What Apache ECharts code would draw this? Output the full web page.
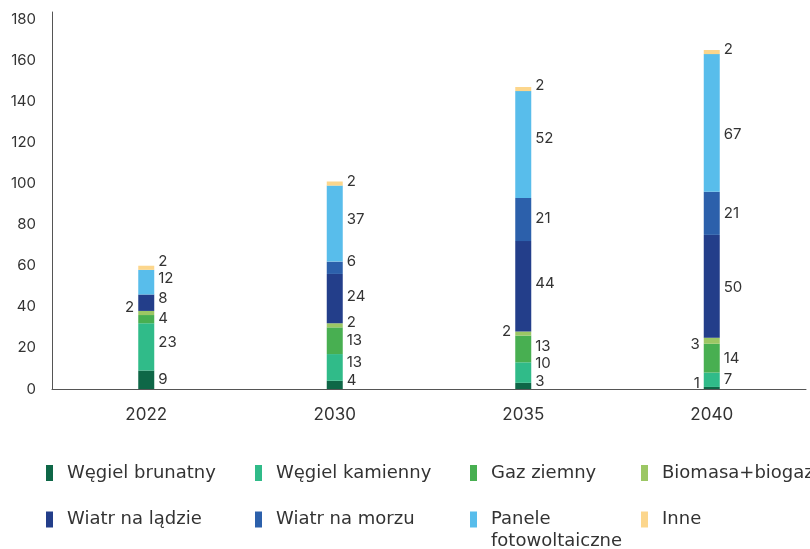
<!DOCTYPE html>
<html>
<head>
<meta charset="utf-8">
<script src="https://cdn.jsdelivr.net/npm/echarts@6/dist/echarts.min.js"></script>
<style>
  html, body { margin: 0; padding: 0; background: #ffffff; }
  #chart { width: 810px; height: 549px; }
</style>
</head>
<body>
<div id="chart"></div>
<script>
// Installed capacity by source (GW), stacked per year
const years = ['2022', '2030', '2035', '2040'];
const yTicks = [0, 20, 40, 60, 80, 100, 120, 140, 160, 180];

const seriesNames = [
  'Węgiel brunatny', 'Węgiel kamienny', 'Gaz ziemny', 'Biomasa+biogaz',
  'Wiatr na lądzie', 'Wiatr na morzu', 'Panele fotowoltaiczne', 'Inne'
];

const wegielBrunatny = [9, 4, 3, 1];
const wegielKamienny = [23, 13, 10, 7];
const gazZiemny      = [4, 13, 13, 14];
const biomasaBiogaz  = [2, 2, 2, 3];
const wiatrLad       = [8, 24, 44, 50];
const wiatrMorze     = [0, 6, 21, 21];
const panelePV       = [12, 37, 52, 67];
const inne           = [2, 2, 2, 2];

const seriesValues = [
  wegielBrunatny, wegielKamienny, gazZiemny, biomasaBiogaz,
  wiatrLad, wiatrMorze, panelePV, inne
];

const colors = [
  '#0e6747', '#30bb89', '#48af51', '#9cc764',
  '#233e8a', '#2c60ab', '#58bdeb', '#fcd68c'
];

// Value labels: side of the bar and vertical nudge (px), per series / year
const labelLeft = {
  '0-3': true,              // Węgiel brunatny 2040
  '3-0': true, '3-2': true, '3-3': true   // Biomasa+biogaz
};
const labelDy = [
  [0, -4, -4, -4.5],
  [-4, -4.5, -9, 0],
  [-1, 0, -2, 0],
  [-5, -2.5, -2.5, 4],
  [-4.5, -2.5, -3, 1],
  [0, -6, -1, 0],
  [-4, -4.5, -6, 12],
  [-6, -2.5, -4, -3]
];

const labelFont = 'Inter, "Noto Sans", sans-serif';

const series = seriesNames.map((name, s) => ({
  name: name,
  type: 'bar',
  stack: 'total',
  barWidth: 16,
  itemStyle: { color: colors[s] },
  emphasis: { disabled: true },
  data: seriesValues[s].map((v, i) => {
    const left = !!labelLeft[s + '-' + i];
    return {
      value: v,
      label: {
        show: v > 0,
        position: left ? 'left' : 'right',
        distance: 4,
        offset: [0, labelDy[s][i]],
        color: '#333333',
        fontSize: 15,
        fontFamily: labelFont
      }
    };
  })
}));

// Legend laid out as a 4 x 2 grid: one legend component per entry
const legendCols = [46, 255, 470, 641];
const legendRows = [473, 519.5];   // marker centre y
const legendFont = '"DejaVu Sans", sans-serif';
const legends = seriesNames.map((name, s) => {
  const col = s % 4, row = Math.floor(s / 4);
  const multi = name === 'Panele fotowoltaiczne';
  const lineH = 22;
  const blockH = multi ? lineH * 3 : lineH;
  return {
    data: [name],
    left: legendCols[col],
    top: legendRows[row] - blockH / 2,
    padding: 0,
    icon: 'rect',
    itemWidth: 7,
    itemHeight: 16,
    itemGap: 0,
    selectedMode: false,
    formatter: multi ? () => ' \nPanele\nfotowoltaiczne' : '{name}',
    textStyle: {
      color: '#333333',
      fontSize: 18,
      fontFamily: legendFont,
      lineHeight: lineH,
      padding: [0, 0, 0, 9]
    }
  };
});

const chart = echarts.init(document.getElementById('chart'), null, { renderer: 'canvas' });
chart.setOption({
  animation: false,
  backgroundColor: '#ffffff',
  grid: { left: 52, right: 4, top: 12, bottom: 160, containLabel: false },
  legend: legends,
  xAxis: {
    type: 'category',
    data: years,
    axisLine: { show: true, lineStyle: { color: '#555555', width: 1 } },
    axisTick: { show: false },
    axisLabel: {
      color: '#333333',
      fontSize: 17,
      fontFamily: labelFont,
      margin: 17
    }
  },
  yAxis: {
    type: 'value',
    min: yTicks[0],
    max: 183.5,
    interval: yTicks[1] - yTicks[0],
    axisLine: { show: true, lineStyle: { color: '#555555', width: 1 } },
    axisTick: { show: false },
    splitLine: { show: false },
    axisLabel: {
      color: '#333333',
      fontSize: 15,
      fontFamily: labelFont,
      margin: 16,
      showMaxLabel: false,
      formatter: (v) => (yTicks.indexOf(v) >= 0 ? String(v) : '')
    }
  },
  series: series
});
</script>
</body>
</html>
